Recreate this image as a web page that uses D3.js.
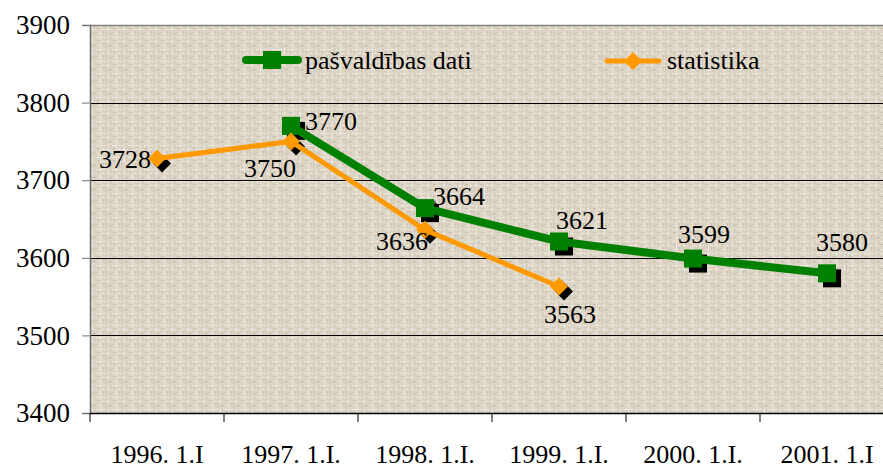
<!DOCTYPE html>
<html lang="lv">
<head>
<meta charset="UTF-8">
<title>pašvaldības dati / statistika</title>
<script src="https://d3js.org/d3.v7.min.js"></script>
<style>
  body { margin: 0; background: #fff; }
  svg text { font-family: "Liberation Serif", "Times New Roman", serif !important; fill: #000; }
</style>
</head>
<body>
<script>
  // dati
  var categories = ['1996. 1.I', '1997. 1.I.', '1998. 1.I.', '1999. 1.I.', '2000. 1.I.', '2001. 1.I']
  var pasvaldibas = [null, 3770, 3664, 3621, 3599, 3580]
  var statistika = [3728, 3750, 3636, 3563, null, null]
  var yTicks = [3400, 3500, 3600, 3700, 3800, 3900]

  // label offsets (hand placed in the original)
  var greenLabelOff = [null, [14, 4], [8, -3], [-3, -13], [-15, -16], [-11, -22]]
  var orangeLabelOff = [[-58, 10], [-47, 36], [-49, 20], [-15, 36], null, null]

  var width = 883, height = 468
  var plotLeft = 90, plotTop = 25, plotBottom = 413
  var bandW = 134
  var serif = '"Liberation Serif", "Times New Roman", serif'

  var svg = d3.select('body').append('svg').attr('width', width).attr('height', height)

  // texture for plot background
  var defs = svg.append('defs')
  var pat = defs.append('pattern').attr('id', 'tex').attr('patternUnits', 'userSpaceOnUse')
    .attr('width', 16).attr('height', 12)
  pat.append('rect').attr('width', 16).attr('height', 12).attr('fill', '#dbd3c4')
  var streaks = [
    [0, 1, 10, 1, '#ece7dd'], [6, 5, 10, 1, '#efeae1'], [2, 9, 8, 1, '#e9e3d8'],
    [4, 0, 1, 12, '#eae4d9'], [12, 0, 1, 7, '#ebe5da'], [9, 3, 1, 9, '#cfc5b3'],
    [1, 4, 3, 1, '#c9bea9'], [13, 9, 3, 1, '#c7bca8'], [7, 7, 1, 3, '#cbc0ad'],
    [14, 2, 1, 4, '#d0c6b5']
  ]
  streaks.forEach(function (s) {
    pat.append('rect').attr('x', s[0]).attr('y', s[1]).attr('width', s[2]).attr('height', s[3]).attr('fill', s[4])
  })

  var x = d3.scaleBand().domain(categories).range([plotLeft, plotLeft + bandW * categories.length])
  var y = d3.scaleLinear().domain([3400, 3900]).range([plotBottom, plotTop])
  var cx = function (i) { return x(categories[i]) + x.bandwidth() / 2 }

  svg.append('rect').attr('x', plotLeft).attr('y', plotTop).attr('width', width - plotLeft).attr('height', plotBottom - plotTop)
    .attr('fill', 'url(#tex)')

  // gridlines
  svg.append('g').selectAll('line').data(yTicks.slice(1, -1)).enter().append('line')
    .attr('x1', plotLeft).attr('x2', width).attr('y1', function (d) { return Math.round(y(d)) + 0.5 }).attr('y2', function (d) { return Math.round(y(d)) + 0.5 })
    .attr('stroke', '#000').attr('stroke-width', 1)
  svg.append('line').attr('x1', plotLeft).attr('x2', width).attr('y1', plotTop + 0.5).attr('y2', plotTop + 0.5)
    .attr('stroke', '#808080').attr('stroke-width', 1.5)

  // y axis
  var yAxis = d3.axisLeft(y).tickValues(yTicks).tickSize(8).tickPadding(12).tickFormat(d3.format('d'))
  var gy = svg.append('g').attr('transform', 'translate(' + plotLeft + ',0)').call(yAxis)
    .attr('font-family', serif).attr('font-size', 27)
  gy.select('.domain').attr('stroke', '#707070').attr('stroke-width', 1.5)
  gy.selectAll('.tick line').attr('stroke', '#707070')
  gy.selectAll('text').attr('fill', '#000')

  // x axis
  var gx = svg.append('g').attr('transform', 'translate(0,' + plotBottom + ')')
  gx.append('line').attr('x1', plotLeft).attr('x2', width).attr('y1', 0.5).attr('y2', 0.5).attr('stroke', '#000').attr('stroke-width', 1.5)
  gx.selectAll('.tk').data(categories).enter().append('line').attr('class', 'tk')
    .attr('x1', function (d) { return x(d) }).attr('x2', function (d) { return x(d) })
    .attr('y1', 0).attr('y2', 9).attr('stroke', '#000')
  gx.selectAll('.lbl').data(categories).enter().append('text').attr('class', 'lbl')
    .attr('x', function (d) { return x(d) + x.bandwidth() / 2 }).attr('y', 50)
    .attr('text-anchor', 'middle').attr('font-size', 26).text(function (d) { return d })

  function pts(vals) {
    return vals.map(function (v, i) { return v == null ? null : { i: i, v: v } }).filter(function (d) { return d })
  }
  var gP = pts(pasvaldibas), oP = pts(statistika)
  var line = d3.line().x(function (d) { return cx(d.i) }).y(function (d) { return y(d.v) })
  var diamond = function (s) { return 'M0,' + (-s) + 'L' + s + ',0L0,' + s + 'L' + (-s) + ',0Z' }

  // shadows
  svg.append('g').selectAll('rect').data(gP).enter().append('rect')
    .attr('x', function (d) { return cx(d.i) - 9 + 5 }).attr('y', function (d) { return y(d.v) - 9 + 5 })
    .attr('width', 18).attr('height', 18).attr('fill', '#000')
  svg.append('g').selectAll('path').data(oP).enter().append('path')
    .attr('transform', function (d) { return 'translate(' + (cx(d.i) + 5) + ',' + (y(d.v) + 5) + ')' })
    .attr('d', diamond(9)).attr('fill', '#000')

  // lines
  svg.append('path').datum(oP).attr('d', line).attr('fill', 'none').attr('stroke', '#ff9900')
    .attr('stroke-width', 5).attr('stroke-linejoin', 'round')
  svg.append('path').datum(gP).attr('d', line).attr('fill', 'none').attr('stroke', '#008000')
    .attr('stroke-width', 8).attr('stroke-linejoin', 'round')

  // markers
  svg.append('g').selectAll('rect').data(gP).enter().append('rect')
    .attr('x', function (d) { return cx(d.i) - 9 }).attr('y', function (d) { return y(d.v) - 9 })
    .attr('width', 18).attr('height', 18).attr('fill', '#008000')
  svg.append('g').selectAll('path').data(oP).enter().append('path')
    .attr('transform', function (d) { return 'translate(' + cx(d.i) + ',' + y(d.v) + ')' })
    .attr('d', diamond(9)).attr('fill', '#ff9900')

  // data labels
  svg.append('g').attr('font-size', 26).selectAll('text').data(gP).enter().append('text')
    .attr('x', function (d) { return cx(d.i) + greenLabelOff[d.i][0] })
    .attr('y', function (d) { return y(d.v) + greenLabelOff[d.i][1] })
    .text(function (d) { return d.v })
  svg.append('g').attr('font-size', 26).selectAll('text').data(oP).enter().append('text')
    .attr('x', function (d) { return cx(d.i) + orangeLabelOff[d.i][0] })
    .attr('y', function (d) { return y(d.v) + orangeLabelOff[d.i][1] })
    .text(function (d) { return d.v })

  // legend
  var lg = svg.append('g').attr('font-size', 26)
  lg.append('line').attr('x1', 246).attr('x2', 298).attr('y1', 60).attr('y2', 60)
    .attr('stroke', '#008000').attr('stroke-width', 8).attr('stroke-linecap', 'round')
  lg.append('rect').attr('x', 263).attr('y', 51).attr('width', 18).attr('height', 18).attr('fill', '#008000')
  lg.append('text').attr('x', 305).attr('y', 69).text('pašvaldības dati')
  lg.append('line').attr('x1', 607).attr('x2', 659).attr('y1', 61).attr('y2', 61)
    .attr('stroke', '#ff9900').attr('stroke-width', 5).attr('stroke-linecap', 'round')
  lg.append('path').attr('transform', 'translate(633,61)').attr('d', diamond(9)).attr('fill', '#ff9900')
  lg.append('text').attr('x', 667).attr('y', 69).text('statistika')
</script>
</body>
</html>
